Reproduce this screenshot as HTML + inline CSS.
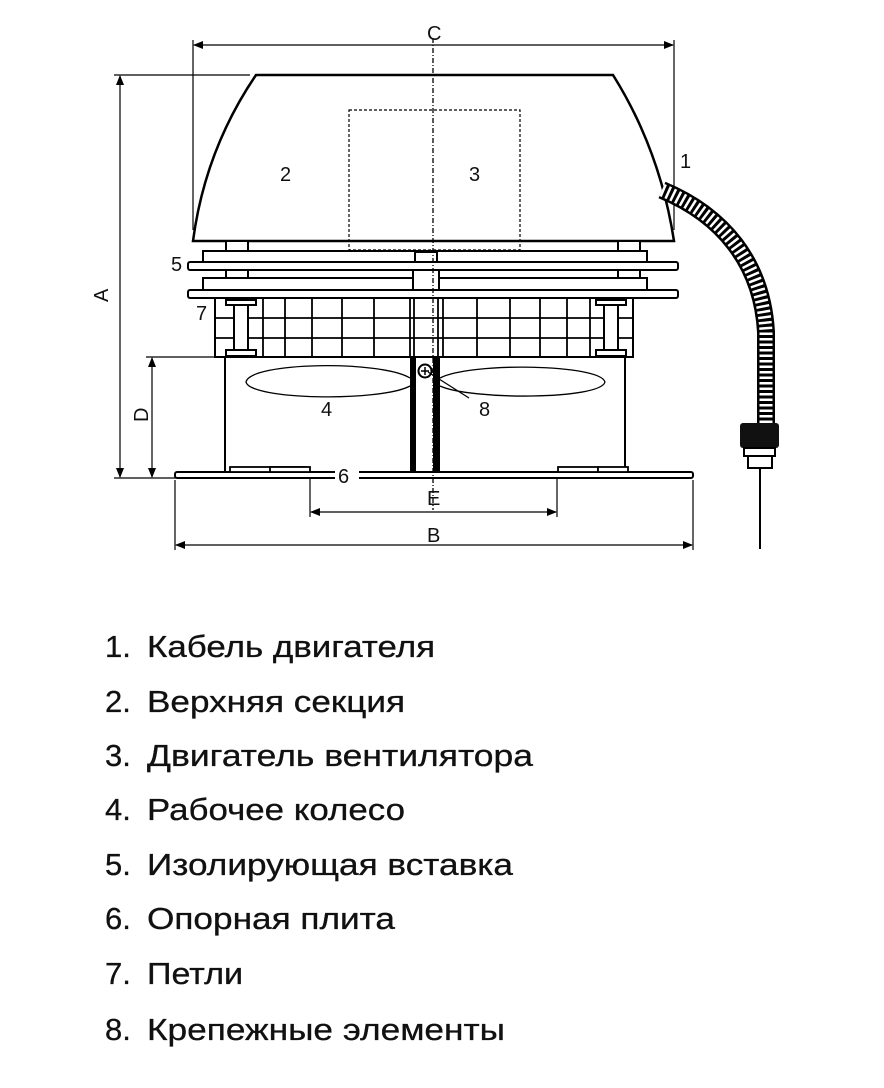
<!DOCTYPE html>
<html><head><meta charset="utf-8"><style>
html,body{margin:0;padding:0;background:#fff;}
svg{display:block;}
text{font-family:"Liberation Sans",sans-serif;fill:#111;}
</style></head><body>
<svg width="884" height="1088" viewBox="0 0 884 1088" xmlns="http://www.w3.org/2000/svg">
<defs>
<marker id="ar" markerWidth="10" markerHeight="8" refX="9" refY="4" orient="auto-start-reverse" markerUnits="userSpaceOnUse"><path d="M0,0 L10,4 L0,8 z" fill="#000"/></marker>
</defs>
<g stroke="#000" fill="none" stroke-width="1.2">
<line x1="193" y1="40" x2="193" y2="230"/><line x1="674" y1="40" x2="674" y2="230"/>
<line x1="194" y1="45" x2="673" y2="45" marker-start="url(#ar)" marker-end="url(#ar)"/>
<line x1="114" y1="75" x2="250" y2="75"/>
<line x1="120" y1="76" x2="120" y2="477" marker-start="url(#ar)" marker-end="url(#ar)"/>
<line x1="114" y1="478" x2="176" y2="478"/>
<line x1="146" y1="357" x2="216" y2="357"/>
<line x1="152" y1="358" x2="152" y2="477" marker-start="url(#ar)" marker-end="url(#ar)"/>
<line x1="175" y1="480" x2="175" y2="550"/><line x1="693" y1="480" x2="693" y2="550"/>
<line x1="176" y1="545" x2="692" y2="545" marker-start="url(#ar)" marker-end="url(#ar)"/>
<line x1="310" y1="478" x2="310" y2="517"/><line x1="557" y1="478" x2="557" y2="517"/>
<line x1="311" y1="512" x2="556" y2="512" marker-start="url(#ar)" marker-end="url(#ar)"/>
</g>
<path d="M256,75 L613,75 Q660,150 674,241 L193,241 Q205,150 256,75 Z" fill="#fff" stroke="#000" stroke-width="2.5"/>
<rect x="349" y="110" width="171" height="140" fill="none" stroke="#000" stroke-width="1.2" stroke-dasharray="3,2"/>
<g stroke="#000" stroke-width="2" fill="#fff">
<rect x="226" y="241" width="22" height="10"/><rect x="618" y="241" width="22" height="10"/>
<rect x="203" y="251" width="444" height="11"/>
<rect x="188" y="262" width="490" height="8" rx="2"/>
<rect x="226" y="270" width="22" height="8"/><rect x="618" y="270" width="22" height="8"/>
<rect x="203" y="278" width="444" height="12"/>
<rect x="188" y="290" width="490" height="8" rx="2"/>
<rect x="215" y="298" width="418" height="59"/>
<rect x="225" y="357" width="400" height="115"/>
</g>
<rect x="415" y="252" width="22" height="10" fill="#fff" stroke="#000" stroke-width="2"/>
<rect x="413" y="270" width="26" height="20" fill="#fff" stroke="#000" stroke-width="2"/>
<g stroke="#000" stroke-width="1.8">
<line x1="215" y1="318" x2="633" y2="318"/><line x1="215" y1="338" x2="633" y2="338"/>
<line x1="245" y1="298" x2="245" y2="357"/><line x1="263" y1="298" x2="263" y2="357"/>
<line x1="285" y1="298" x2="285" y2="357"/><line x1="312" y1="298" x2="312" y2="357"/>
<line x1="342" y1="298" x2="342" y2="357"/><line x1="374" y1="298" x2="374" y2="357"/>
<line x1="410" y1="298" x2="410" y2="357"/><line x1="414" y1="298" x2="414" y2="357"/>
<line x1="438" y1="298" x2="438" y2="357"/><line x1="443" y1="298" x2="443" y2="357"/>
<line x1="477" y1="298" x2="477" y2="357"/><line x1="510" y1="298" x2="510" y2="357"/>
<line x1="540" y1="298" x2="540" y2="357"/><line x1="567" y1="298" x2="567" y2="357"/>
<line x1="590" y1="298" x2="590" y2="357"/><line x1="607" y1="298" x2="607" y2="357"/>
</g>
<g fill="#fff" stroke="#000" stroke-width="2">
<rect x="226" y="300" width="30" height="5"/><rect x="226" y="350" width="30" height="6"/>
<rect x="234" y="305" width="14" height="45"/>
<rect x="596" y="300" width="30" height="5"/><rect x="596" y="350" width="30" height="6"/>
<rect x="604" y="305" width="14" height="45"/>
</g>
<rect x="410" y="357" width="6" height="115" fill="#000"/>
<rect x="433" y="357" width="7" height="115" fill="#000"/>
<path d="M410,378 C380,360 250,362 246,382 C250,400 380,402 410,386" fill="none" stroke="#000" stroke-width="1.3"/>
<path d="M440,378 C470,362 600,364 605,382 C600,400 470,400 440,386" fill="none" stroke="#000" stroke-width="1.3"/>
<circle cx="425" cy="371" r="6.5" fill="#fff" stroke="#000" stroke-width="2"/>
<path d="M421,371h8M425,367v8" stroke="#000" stroke-width="1.5"/>
<line x1="428" y1="372" x2="469" y2="398" stroke="#000" stroke-width="1.2"/>
<rect x="175" y="472" width="518" height="6" fill="#fff" stroke="#000" stroke-width="2" rx="2"/>
<g fill="#fff" stroke="#000" stroke-width="1.8">
<rect x="230" y="467" width="75" height="5"/><rect x="270" y="467" width="40" height="5"/>
<rect x="558" y="467" width="40" height="5"/><rect x="598" y="467" width="30" height="5"/>
</g>
<rect x="335" y="466" width="24" height="16" fill="#fff"/>
<line x1="433" y1="38" x2="433" y2="510" stroke="#000" stroke-width="1.3" stroke-dasharray="5,2,1,2"/>
<path d="M662,190 C722,215 762,262 766,332 L766,425" fill="none" stroke="#000" stroke-width="18"/>
<path d="M662,190 C722,215 762,262 766,332 L766,425" fill="none" stroke="#fff" stroke-width="13" stroke-dasharray="2.5,3"/>
<rect x="740" y="423" width="39" height="25" fill="#111" rx="3"/>
<rect x="744" y="448" width="31" height="8" fill="#fff" stroke="#000" stroke-width="2"/>
<rect x="748" y="456" width="24" height="12" fill="#fff" stroke="#000" stroke-width="2"/>
<line x1="760" y1="468" x2="760" y2="549" stroke="#000" stroke-width="2"/>
<g font-size="20">
<text x="427" y="40">C</text>
<text x="680" y="168">1</text>
<text x="280" y="181">2</text>
<text x="469" y="181">3</text>
<text x="321" y="416">4</text>
<text x="171" y="271">5</text>
<text x="338" y="483">6</text>
<text x="196" y="320">7</text>
<text x="479" y="416">8</text>
<text x="427" y="505">E</text>
<text x="427" y="542">B</text>
<text transform="translate(108,302) rotate(-90)">A</text>
<text transform="translate(148,422) rotate(-90)">D</text>
</g>
<g font-size="31" stroke="#111" stroke-width="0.3">
<text x="105" y="657">1.</text><text x="147" y="657" textLength="288" lengthAdjust="spacingAndGlyphs">Кабель двигателя</text>
<text x="105" y="712">2.</text><text x="147" y="712" textLength="258" lengthAdjust="spacingAndGlyphs">Верхняя секция</text>
<text x="105" y="766">3.</text><text x="147" y="766" textLength="386" lengthAdjust="spacingAndGlyphs">Двигатель вентилятора</text>
<text x="105" y="820">4.</text><text x="147" y="820" textLength="258" lengthAdjust="spacingAndGlyphs">Рабочее колесо</text>
<text x="105" y="875">5.</text><text x="147" y="875" textLength="366" lengthAdjust="spacingAndGlyphs">Изолирующая вставка</text>
<text x="105" y="929">6.</text><text x="147" y="929" textLength="248" lengthAdjust="spacingAndGlyphs">Опорная плита</text>
<text x="105" y="984">7.</text><text x="147" y="984" textLength="96" lengthAdjust="spacingAndGlyphs">Петли</text>
<text x="105" y="1040">8.</text><text x="147" y="1040" textLength="358" lengthAdjust="spacingAndGlyphs">Крепежные элементы</text>
</g>
</svg>
</body></html>
